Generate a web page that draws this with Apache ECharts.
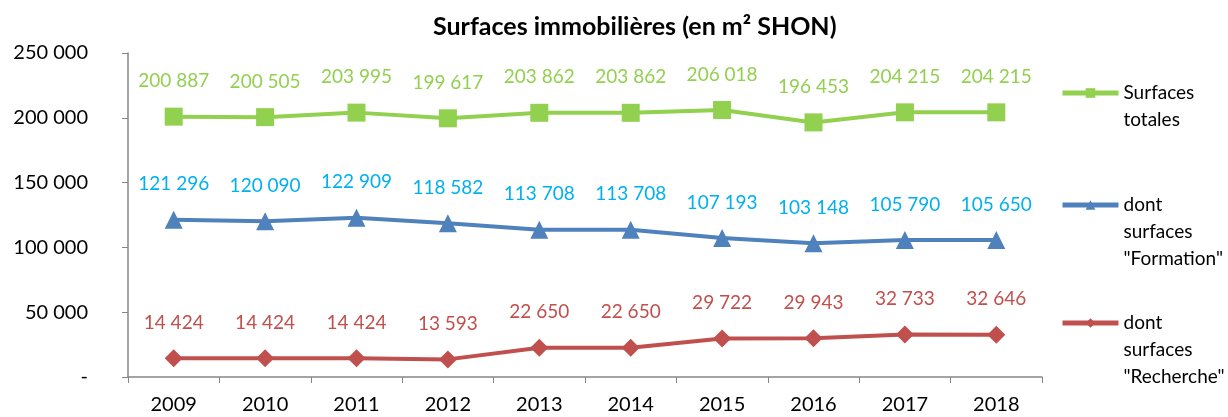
<!DOCTYPE html>
<html><head><meta charset="utf-8">
<script src="https://cdn.jsdelivr.net/npm/echarts@6/dist/echarts.min.js"></script>
<style>html,body{margin:0;padding:0;background:#fff}#c{width:1228px;height:417px}</style>
</head><body><div id="c"></div>
<script>
const categories = ['2009','2010','2011','2012','2013','2014','2015','2016','2017','2018'];
const totales = [200887,200505,203995,199617,203862,203862,206018,196453,204215,204215];
const formation = [121296,120090,122909,118582,113708,113708,107193,103148,105790,105650];
const recherche = [14424,14424,14424,13593,22650,22650,29722,29943,32733,32646];
const yTicks = ['-','50 000','100 000','150 000','200 000','250 000'];
const names = ['Surfaces\ntotales','dont\nsurfaces\n"Formation"','dont\nsurfaces\n"Recherche"'];

const FONT = 'Lato, "Open Sans", sans-serif';
const LH = 27;
const fmt = v => String(v).replace(/\B(?=(\d{3})+(?!\d))/g, ' ');

function series(name, data, lineColor, labelColor, symbol, size) {
  return {
    name, type: 'line', data, symbol, symbolSize: size,
    lineStyle: {color: lineColor, width: 4},
    itemStyle: {color: lineColor},
    label: {show: true, position: 'top', distance: 17, color: labelColor,
      fontFamily: FONT, fontSize: 19, formatter: p => fmt(p.value)},
    emphasis: {disabled: true}, animation: false
  };
}
function legend(name, iconY) {
  const n = name.split('\n').length;
  const boxH = (2 * n - 1) * LH;
  return {data: [name], orient: 'vertical', left: 1060, top: iconY - boxH / 2, itemWidth: 56, itemHeight: 12,
    itemGap: 0, padding: 0, lineStyle: {width: 5},
    formatter: s => '\n'.repeat(n - 1) + s,
    textStyle: {fontFamily: FONT, fontSize: 19, color: '#000', lineHeight: LH}};
}
const chart = echarts.init(document.getElementById('c'));
chart.setOption({
  animation: false,
  title: {text: 'Surfaces immobilières (en m² SHON)', left: 428, top: 9,
    textStyle: {fontFamily: FONT, fontSize: 25, fontWeight: 'bold', color: '#000'}},
  legend: [legend(names[0], 93), legend(names[1], 205), legend(names[2], 323)],
  grid: {left: 128, right: 186, top: 53, bottom: 40},
  xAxis: {type: 'category', data: categories, boundaryGap: true,
    axisLine: {lineStyle: {color: '#868686', width: 1.5}},
    axisTick: {show: true, length: 6, lineStyle: {color: '#868686'}},
    axisLabel: {fontFamily: FONT, fontSize: 20, color: '#000', margin: 18}},
  yAxis: {type: 'value', min: 0, max: 250000, interval: 50000,
    axisLine: {show: true, lineStyle: {color: '#868686', width: 1.5}},
    axisTick: {show: true, length: 6, lineStyle: {color: '#868686'}},
    splitLine: {show: false},
    axisLabel: {fontFamily: FONT, fontSize: 20, color: '#000', margin: 40,
      formatter: v => yTicks[Math.round(v / 50000)]}},
  series: [
    series(names[0], totales, '#92D050', '#92D050', 'rect', 18),
    series(names[1], formation, '#4F81BD', '#00B0F0', 'triangle', 18),
    series(names[2], recherche, '#C0504D', '#C0504D', 'diamond', 18)
  ]
});
</script></body></html>
